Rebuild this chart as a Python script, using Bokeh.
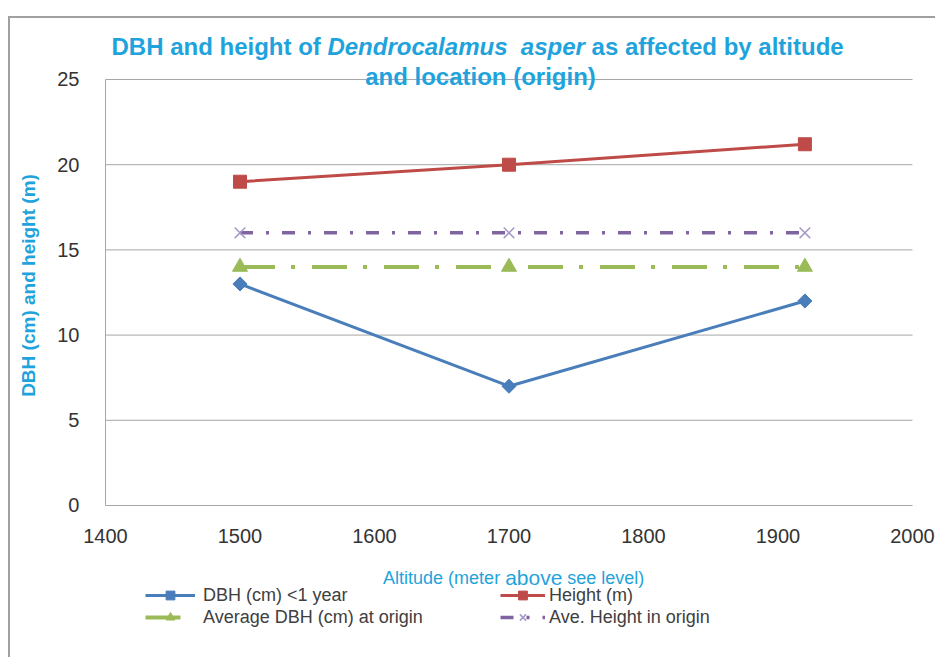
import math
from bokeh.plotting import figure
from bokeh.models import Legend, LegendItem, Label, Range1d
from bokeh.embed import file_html
from bokeh.resources import INLINE

# ---- data ----
altitude = [1500, 1700, 1920]
dbh_lt1 = [13, 7, 12]
height_m = [19, 20, 21.2]
avg_dbh_origin = [14, 14, 14]
ave_height_origin = [16, 16, 16]
x_ticks = [1400, 1500, 1600, 1700, 1800, 1900, 2000]
y_ticks = [0, 5, 10, 15, 20, 25]
series_names = ["DBH (cm) <1 year", "Height (m)",
                "Average DBH (cm) at origin", "Ave. Height in origin"]

CYAN = "#1FA3DC"
GRID = "#a6a6a6"
FONT = "Liberation Sans"

# The frame covers the whole canvas so that title, axis title and legend
# (drawn as annotations) are not clipped; axes are pinned at x=1400 / y=0.
X_PAD_LEFT, X_PAD_RIGHT = 70.63, 18.59
Y_PAD_TOP, Y_PAD_BOTTOM = 3.58, 9.04
p = figure(width=927, height=641, title=None,
           x_range=Range1d(x_ticks[0] - X_PAD_LEFT, x_ticks[-1] + X_PAD_RIGHT),
           y_range=Range1d(y_ticks[0] - Y_PAD_BOTTOM, y_ticks[-1] + Y_PAD_TOP),
           output_backend="svg", toolbar_location=None,
           min_border_left=0, min_border_right=0,
           min_border_top=0, min_border_bottom=0)
p.styles = {"border-top": "2px solid #a0a0a0",
            "border-left": "2px solid #a0a0a0",
            "margin-top": "16px", "margin-left": "8px"}
p.outline_line_color = None
p.background_fill_color = "white"
p.xgrid.grid_line_color = None
p.ygrid.grid_line_color = None

# horizontal gridlines limited to the value area
p.segment(x0=[x_ticks[0]] * (len(y_ticks) - 1), x1=[x_ticks[-1]] * (len(y_ticks) - 1),
          y0=y_ticks[1:], y1=y_ticks[1:], line_color=GRID, line_width=1)

for ax in (p.xaxis, p.yaxis):
    ax.major_label_text_font = FONT
    ax.major_label_text_font_size = "20px"
    ax.major_label_text_color = "#333333"
    ax.axis_line_color = GRID
    ax.major_tick_line_color = None
    ax.minor_tick_line_color = None
p.xaxis.ticker = x_ticks
p.yaxis.ticker = y_ticks
p.xaxis.fixed_location = y_ticks[0]
p.yaxis.fixed_location = x_ticks[0]
p.xaxis.bounds = (x_ticks[0], x_ticks[-1])
p.yaxis.bounds = (y_ticks[0], y_ticks[-1])
p.xaxis.major_label_standoff = 18
p.yaxis.major_label_standoff = 20

# ---- series ----
l1 = p.line(altitude, dbh_lt1, color="#4A7EBB", line_width=3)
s1 = p.scatter(altitude, dbh_lt1, marker="square", angle=math.pi / 4,
               size=10, color="#4A7EBB")
l2 = p.line(altitude, height_m, color="#BE4B48", line_width=3)
s2 = p.scatter(altitude, height_m, marker="square", size=13, color="#BE4B48")
l3 = p.line(altitude, avg_dbh_origin, color="#9BBB59", line_width=4,
            line_dash="35 16 4 17")
s3 = p.scatter(altitude, avg_dbh_origin, marker="triangle", size=15, color="#9BBB59")
l4 = p.line(altitude, ave_height_origin, color="#8064A2", line_width=3.5,
            line_dash="13 13 3 13")
s4 = p.scatter(altitude, ave_height_origin, marker="x", size=15,
               line_color="#A898C8", line_width=1.5)

def make_legend(items, loc, gw, standoff):
    return Legend(items=items, location=loc, orientation="vertical",
                  border_line_color=None, background_fill_alpha=0,
                  padding=0, spacing=0, margin=0,
                  label_height=20, glyph_height=22, glyph_width=gw,
                  label_standoff=standoff, label_text_font=FONT,
                  label_text_font_size="18px", label_text_color="#404040")

leg1 = make_legend([LegendItem(label=series_names[0], renderers=[l1, s1]),
                    LegendItem(label=series_names[2], renderers=[l3, s3])],
                   (135, 31), 50, 8)
leg2 = make_legend([LegendItem(label=series_names[1], renderers=[l2, s2]),
                    LegendItem(label=series_names[3], renderers=[l4, s4])],
                   (490, 31), 45, 4)
p.add_layout(leg1)
p.add_layout(leg2)

def lab(x, y, text, size, style="bold", align="left", angle=0.0, color=CYAN):
    p.add_layout(Label(x=x, y=y, text=text, text_font=FONT,
                       text_font_size=size, text_font_style=style,
                       text_color=color, text_align=align, angle=angle,
                       text_baseline="middle"))

# ---- title (mixed italic) ----
lab(1560.1, 26.94, "DBH and height of", "24px", "bold", "right")
lab(1565.0, 26.94, "Dendrocalamus\u00a0\u00a0asper", "24px", "bold italic", "left")
lab(1761.4, 26.94, "as affected by altitude", "24px", "bold", "left")
lab(1678.8, 25.18, "and location (origin)", "24px", "bold", "center")

# ---- y axis title ----
lab(1342.75, 12.91, "DBH (cm) and height (m)", "19px", "bold", "center", math.pi / 2)

# ---- x axis title (mixed size) ----
lab(1693.4, -4.23, "Altitude (meter", "18px", "normal", "right")
lab(1718.4, -4.23, "above", "21px", "normal", "center")
lab(1743.3, -4.23, "see level)", "18px", "normal", "left")

open("out.html", "w").write(file_html(p, INLINE))
